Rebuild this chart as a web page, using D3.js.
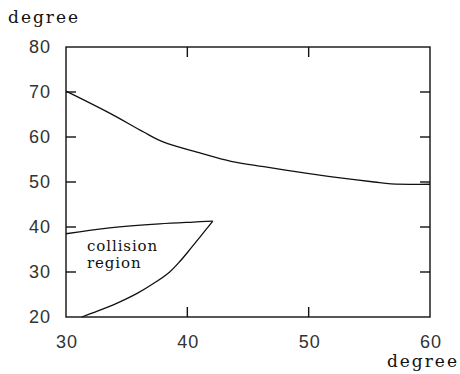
<!DOCTYPE html>
<html>
<head>
<meta charset="utf-8">
<script src="https://cdn.jsdelivr.net/npm/d3@7"></script>
<style>
  body { margin: 0; background: #fff; }
  svg { display: block; }
</style>
</head>
<body>
<div id="container"></div>
<script>
// upper boundary curve
const upperX = [30, 33.6, 36.4, 38.0, 41.1, 43.6, 46.3, 49.9, 52.6, 55.4, 56.8, 60];
const upperY = [70.2, 65.3, 61.1, 58.9, 56.4, 54.6, 53.4, 51.9, 50.9, 50.0, 49.6, 49.5];

// collision region: top edge and lower edge, meeting at the tip
const regionTopX = [30, 33.6, 37.7, 40.5, 42.1];
const regionTopY = [38.5, 39.8, 40.7, 41.1, 41.3];
const regionLowX = [42.1, 41.2, 40.3, 39.4, 38.5, 37.3, 35.9, 33.9, 32.2, 31.3];
const regionLowY = [41.3, 38.3, 35.3, 32.4, 29.9, 27.6, 25.3, 22.7, 20.9, 20];

const xTicks = [30, 40, 50, 60];
const yTicks = [20, 30, 40, 50, 60, 70, 80];

const W = 460, H = 374;
const margin = {top: 47, right: 30, bottom: 57, left: 66};

const svg = d3.select("#container").append("svg")
  .attr("width", W)
  .attr("height", H);

const x = d3.scaleLinear().domain([30, 60]).range([margin.left, W - margin.right]);
const y = d3.scaleLinear().domain([20, 80]).range([H - margin.bottom, margin.top]);

const tickLen = 10;
const frame = svg.append("g").attr("stroke", "#111").attr("stroke-width", 1.4).attr("fill", "none");

frame.append("rect")
  .attr("x", x(30)).attr("y", y(80))
  .attr("width", x(60) - x(30)).attr("height", y(20) - y(80));

// inward ticks on all sides
xTicks.slice(1, -1).forEach(t => {
  frame.append("line").attr("x1", x(t)).attr("x2", x(t)).attr("y1", y(20)).attr("y2", y(20) - tickLen);
  frame.append("line").attr("x1", x(t)).attr("x2", x(t)).attr("y1", y(80)).attr("y2", y(80) + tickLen);
});
yTicks.slice(1, -1).forEach(t => {
  frame.append("line").attr("x1", x(30)).attr("x2", x(30) + tickLen).attr("y1", y(t)).attr("y2", y(t));
  frame.append("line").attr("x1", x(60)).attr("x2", x(60) - tickLen).attr("y1", y(t)).attr("y2", y(t));
});

const labelFont = "'Liberation Sans', Arial, sans-serif";
const serifFont = "'DejaVu Serif', 'Liberation Serif', serif";

svg.append("g").selectAll("text")
  .data(yTicks).join("text")
  .attr("x", x(30) - 15)
  .attr("y", d => y(d))
  .attr("dy", "0.36em")
  .attr("text-anchor", "end")
  .style("font-family", labelFont)
  .style("font-size", "18px")
  .style("letter-spacing", "1px")
  .style("fill", "#333")
  .text(d => d);

svg.append("g").selectAll("text")
  .data(xTicks).join("text")
  .attr("x", d => x(d) + 1)
  .attr("y", 348)
  .attr("text-anchor", "middle")
  .style("font-family", labelFont)
  .style("font-size", "18px")
  .style("letter-spacing", "1px")
  .style("fill", "#333")
  .text(d => d);

svg.append("text")
  .attr("x", 8).attr("y", 23)
  .style("font-family", serifFont)
  .style("font-size", "17px")
  .style("letter-spacing", "2px")
  .style("fill", "#111")
  .text("degree");

svg.append("text")
  .attr("x", 459).attr("y", 367)
  .attr("text-anchor", "end")
  .style("font-family", serifFont)
  .style("font-size", "17px")
  .style("letter-spacing", "2px")
  .style("fill", "#111")
  .text("degree");

const line = d3.line()
  .x(d => x(d[0]))
  .y(d => y(d[1]))
  .curve(d3.curveCatmullRom);

const drawCurve = (xs, ys) => svg.append("path")
  .datum(xs.map((v, i) => [v, ys[i]]))
  .attr("d", line)
  .attr("fill", "none")
  .attr("stroke", "#111")
  .attr("stroke-width", 1.3);

drawCurve(upperX, upperY);
drawCurve(regionTopX, regionTopY);
drawCurve(regionLowX, regionLowY);

const label = svg.append("text")
  .style("font-family", serifFont)
  .style("font-size", "15px")
  .style("letter-spacing", "0.9px")
  .style("fill", "#111");
label.append("tspan").attr("x", 87).attr("y", 251).text("collision");
label.append("tspan").attr("x", 87).attr("y", 268).text("region");
</script>
</body>
</html>
